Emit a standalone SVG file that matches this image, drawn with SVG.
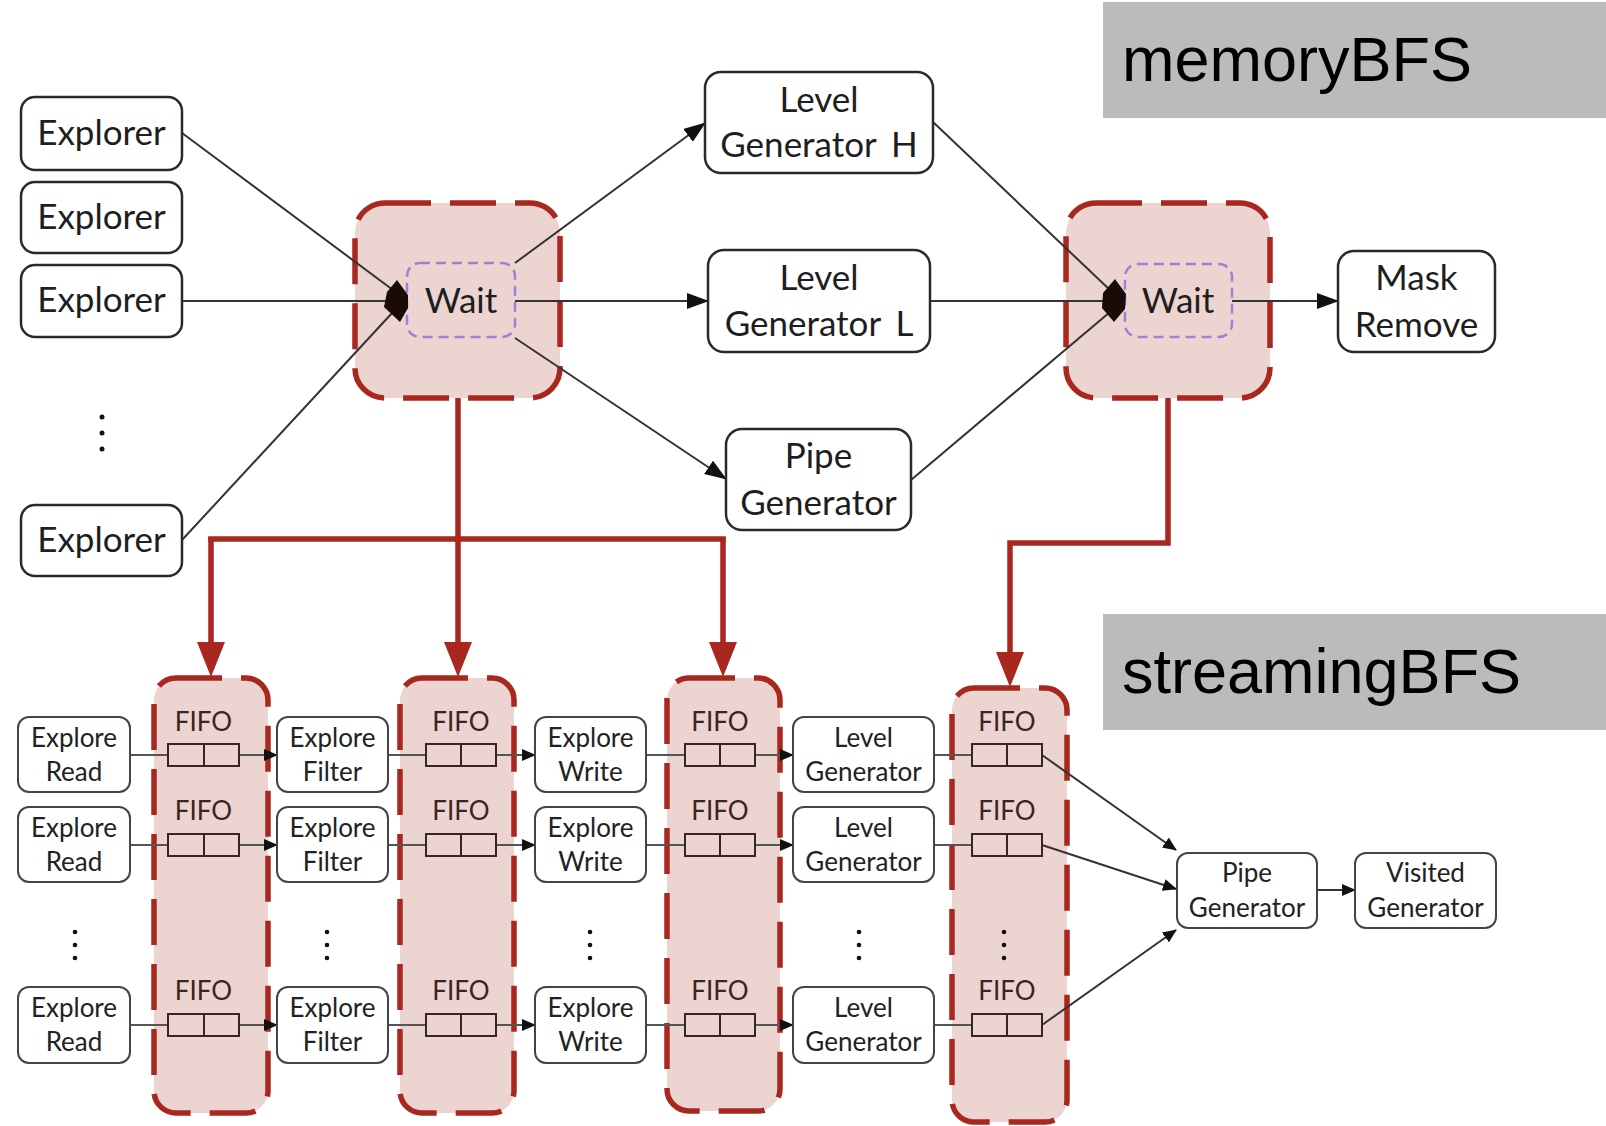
<svg xmlns="http://www.w3.org/2000/svg" width="1606" height="1126" viewBox="0 0 1606 1126">
  <style>
    .bg { fill: #ffffff; }
    .title-box { fill: #bbbbbb; }
    .title { font-family: "Liberation Sans", Arial, sans-serif; font-size: 63px; fill: #000; }
    .node { fill: #ffffff; stroke: #2a2a2a; stroke-width: 2.5; }
    .snode { fill: #ffffff; stroke: #444444; stroke-width: 2; }
    .lbl { font-family: "Lato", "Open Sans", sans-serif; font-size: 35px; fill: #1e1e1e; text-anchor: middle; }
    .slbl { font-family: "Lato", "Open Sans", sans-serif; font-size: 26px; fill: #222222; text-anchor: middle; }
    .flbl { font-family: "Lato", "Open Sans", sans-serif; font-size: 26px; fill: #3a2523; text-anchor: middle; }
    .group-box { fill: #ecd4d0; stroke: #a8271f; stroke-width: 5.5; stroke-dasharray: 46 19; }
    .wait-inner { fill: none; stroke: #9d80d8; stroke-width: 2.5; stroke-dasharray: 10 6; }
    .fifo { fill: #ecd4d0; stroke: #3a2523; stroke-width: 2; }
    .edge { fill: none; stroke: #333333; stroke-width: 2; }
    .sedge { fill: none; stroke: #555555; stroke-width: 2; }
    .red { fill: none; stroke: #a8271f; stroke-width: 5.5; }
    .junction { fill: #1a0a08; }
    .dot { fill: #111111; }
  </style>
  <defs>
    <marker id="arrow" markerUnits="userSpaceOnUse" markerWidth="22" markerHeight="16" refX="21" refY="8" orient="auto">
      <path d="M0,0 L22,8 L0,16 z" fill="#111"/>
    </marker>
    <marker id="arrow-sm" markerUnits="userSpaceOnUse" markerWidth="14" markerHeight="12" refX="13" refY="6" orient="auto">
      <path d="M0,0 L14,6 L0,12 z" fill="#111"/>
    </marker>
    <marker id="arrow-red" markerUnits="userSpaceOnUse" markerWidth="35" markerHeight="28" refX="0" refY="14" orient="auto">
      <path d="M0,0 L35,14 L0,28 z" fill="#a8271f"/>
    </marker>
  </defs>

  <rect class="bg" x="0" y="0" width="1606" height="1126"/>

  <!-- section titles -->
  <g id="title-memory">
    <rect class="title-box" x="1103" y="2" width="503" height="116"/>
    <text class="title" x="1122" y="81">memoryBFS</text>
  </g>
  <g id="title-streaming">
    <rect class="title-box" x="1103" y="614" width="503" height="116"/>
    <text class="title" x="1122" y="693">streamingBFS</text>
  </g>

  <!-- synchronisation containers -->
  <g id="wait1">
    <rect class="group-box" x="355" y="203" width="205" height="195" rx="30"/>
    <rect class="wait-inner" x="407" y="263" width="108" height="74" rx="13"/>
    <text class="lbl" x="461" y="313">Wait</text>
  </g>
  <g id="wait2">
    <rect class="group-box" x="1066" y="203" width="204" height="195" rx="30"/>
    <rect class="wait-inner" x="1125" y="264" width="107" height="73" rx="13"/>
    <text class="lbl" x="1178" y="313">Wait</text>
  </g>

  <!-- FIFO columns -->
  <g id="fifo-col1">
    <rect class="group-box" x="154" y="678" width="114" height="435" rx="22"/>
  </g>
  <g id="fifo-col2">
    <rect class="group-box" x="400" y="678" width="114" height="435" rx="22"/>
  </g>
  <g id="fifo-col3">
    <rect class="group-box" x="667" y="678" width="113" height="433" rx="22"/>
  </g>
  <g id="fifo-col4">
    <rect class="group-box" x="952" y="688" width="115" height="434" rx="22"/>
  </g>

  <!-- connectors -->
  <g id="connectors">
    <!-- explorers into first wait -->
    <line class="edge" x1="182" y1="133" x2="393" y2="290"/>
    <line class="edge" x1="182" y1="301" x2="388" y2="301"/>
    <line class="edge" x1="182" y1="540" x2="393" y2="312"/>
    <!-- first wait to generators -->
    <line class="edge" x1="515" y1="263" x2="705" y2="123" marker-end="url(#arrow)"/>
    <line class="edge" x1="515" y1="301" x2="708" y2="301" marker-end="url(#arrow)"/>
    <line class="edge" x1="515" y1="338" x2="726" y2="479" marker-end="url(#arrow)"/>
    <!-- generators into second wait -->
    <line class="edge" x1="933" y1="122" x2="1110" y2="290"/>
    <line class="edge" x1="930" y1="301" x2="1105" y2="301"/>
    <line class="edge" x1="911" y1="480" x2="1110" y2="312"/>
    <!-- second wait to mask remove -->
    <line class="edge" x1="1232" y1="301" x2="1338" y2="301" marker-end="url(#arrow)"/>

    <!-- merge points -->
    <polygon class="junction" points="397,280 408,295 408,308 400,322 384,307 387,292"/>
    <polygon class="junction" points="1115,279 1126,294 1125,309 1114,322 1102,308 1103,293"/>

    <!-- mapping from memoryBFS to streamingBFS -->
    <path class="red" d="M458,398 V539"/>
    <path class="red" d="M211,539 H723" stroke-linecap="square"/>
    <path class="red" d="M211,537 V642" marker-end="url(#arrow-red)"/>
    <path class="red" d="M458,537 V642" marker-end="url(#arrow-red)"/>
    <path class="red" d="M723,537 V642" marker-end="url(#arrow-red)"/>
    <path class="red" d="M1168,398 V543 H1010 V652" stroke-linejoin="miter" marker-end="url(#arrow-red)"/>

    <!-- streaming rows -->
    <g id="row1-edges">
      <line class="sedge" x1="130" y1="755" x2="168" y2="755"/>
      <line class="sedge" x1="239" y1="755" x2="277" y2="755" marker-end="url(#arrow-sm)"/>
      <line class="sedge" x1="388" y1="755" x2="426" y2="755"/>
      <line class="sedge" x1="496" y1="755" x2="535" y2="755" marker-end="url(#arrow-sm)"/>
      <line class="sedge" x1="646" y1="755" x2="685" y2="755"/>
      <line class="sedge" x1="755" y1="755" x2="793" y2="755" marker-end="url(#arrow-sm)"/>
      <line class="sedge" x1="934" y1="755" x2="972" y2="755"/>
      <line class="edge" x1="1042" y1="755" x2="1176" y2="850" marker-end="url(#arrow-sm)"/>
    </g>
    <g id="row2-edges">
      <line class="sedge" x1="130" y1="845" x2="168" y2="845"/>
      <line class="sedge" x1="239" y1="845" x2="277" y2="845" marker-end="url(#arrow-sm)"/>
      <line class="sedge" x1="388" y1="845" x2="426" y2="845"/>
      <line class="sedge" x1="496" y1="845" x2="535" y2="845" marker-end="url(#arrow-sm)"/>
      <line class="sedge" x1="646" y1="845" x2="685" y2="845"/>
      <line class="sedge" x1="755" y1="845" x2="793" y2="845" marker-end="url(#arrow-sm)"/>
      <line class="sedge" x1="934" y1="845" x2="972" y2="845"/>
      <line class="edge" x1="1042" y1="845" x2="1176" y2="889" marker-end="url(#arrow-sm)"/>
    </g>
    <g id="row3-edges">
      <line class="sedge" x1="130" y1="1025" x2="168" y2="1025"/>
      <line class="sedge" x1="239" y1="1025" x2="277" y2="1025" marker-end="url(#arrow-sm)"/>
      <line class="sedge" x1="388" y1="1025" x2="426" y2="1025"/>
      <line class="sedge" x1="496" y1="1025" x2="535" y2="1025" marker-end="url(#arrow-sm)"/>
      <line class="sedge" x1="646" y1="1025" x2="685" y2="1025"/>
      <line class="sedge" x1="755" y1="1025" x2="793" y2="1025" marker-end="url(#arrow-sm)"/>
      <line class="sedge" x1="934" y1="1025" x2="972" y2="1025"/>
      <line class="edge" x1="1042" y1="1025" x2="1176" y2="930" marker-end="url(#arrow-sm)"/>
    </g>
    <line class="edge" x1="1317" y1="890" x2="1355" y2="890" marker-end="url(#arrow-sm)"/>
  </g>

  <!-- memoryBFS nodes -->
  <g id="explorer1">
    <rect class="node" x="21" y="97" width="161" height="73" rx="14"/>
    <text class="lbl" x="101.5" y="145">Explorer</text>
  </g>
  <g id="explorer2">
    <rect class="node" x="21" y="182" width="161" height="71" rx="14"/>
    <text class="lbl" x="101.5" y="229">Explorer</text>
  </g>
  <g id="explorer3">
    <rect class="node" x="21" y="265" width="161" height="72" rx="14"/>
    <text class="lbl" x="101.5" y="312">Explorer</text>
  </g>
  <g id="explorer-gap">
    <circle class="dot" cx="102" cy="417" r="2.5"/>
    <circle class="dot" cx="102" cy="433" r="2.5"/>
    <circle class="dot" cx="102" cy="449" r="2.5"/>
  </g>
  <g id="explorerN">
    <rect class="node" x="21" y="505" width="161" height="71" rx="14"/>
    <text class="lbl" x="101.5" y="552">Explorer</text>
  </g>
  <g id="level-gen-h">
    <rect class="node" x="705" y="72" width="228" height="101" rx="16"/>
    <text class="lbl" x="819" y="112">Level</text>
    <text class="lbl" x="819" y="157" word-spacing="6">Generator H</text>
  </g>
  <g id="level-gen-l">
    <rect class="node" x="708" y="250" width="222" height="102" rx="16"/>
    <text class="lbl" x="819" y="290">Level</text>
    <text class="lbl" x="819" y="336" word-spacing="6">Generator L</text>
  </g>
  <g id="pipe-gen-mem">
    <rect class="node" x="726" y="429" width="185" height="101" rx="16"/>
    <text class="lbl" x="818.5" y="468">Pipe</text>
    <text class="lbl" x="818.5" y="515">Generator</text>
  </g>
  <g id="mask-remove">
    <rect class="node" x="1338" y="251" width="157" height="101" rx="16"/>
    <text class="lbl" x="1416.5" y="290">Mask</text>
    <text class="lbl" x="1416.5" y="337">Remove</text>
  </g>

  <!-- streamingBFS nodes, row 1 -->
  <g id="read1"><rect class="snode" x="18" y="717" width="112" height="75" rx="11"/>
    <text class="slbl" x="74" y="747">Explore</text><text class="slbl" x="74" y="781">Read</text></g>
  <g id="filter1"><rect class="snode" x="277" y="717" width="111" height="75" rx="11"/>
    <text class="slbl" x="332.5" y="747">Explore</text><text class="slbl" x="332.5" y="781">Filter</text></g>
  <g id="write1"><rect class="snode" x="535" y="717" width="111" height="75" rx="11"/>
    <text class="slbl" x="590.5" y="747">Explore</text><text class="slbl" x="590.5" y="781">Write</text></g>
  <g id="levelgen1"><rect class="snode" x="793" y="717" width="141" height="75" rx="11"/>
    <text class="slbl" x="863.5" y="747">Level</text><text class="slbl" x="863.5" y="781">Generator</text></g>

  <!-- row 2 -->
  <g id="read2"><rect class="snode" x="18" y="807" width="112" height="75" rx="11"/>
    <text class="slbl" x="74" y="837">Explore</text><text class="slbl" x="74" y="871">Read</text></g>
  <g id="filter2"><rect class="snode" x="277" y="807" width="111" height="75" rx="11"/>
    <text class="slbl" x="332.5" y="837">Explore</text><text class="slbl" x="332.5" y="871">Filter</text></g>
  <g id="write2"><rect class="snode" x="535" y="807" width="111" height="75" rx="11"/>
    <text class="slbl" x="590.5" y="837">Explore</text><text class="slbl" x="590.5" y="871">Write</text></g>
  <g id="levelgen2"><rect class="snode" x="793" y="807" width="141" height="75" rx="11"/>
    <text class="slbl" x="863.5" y="837">Level</text><text class="slbl" x="863.5" y="871">Generator</text></g>

  <!-- row N -->
  <g id="read3"><rect class="snode" x="18" y="987" width="112" height="76" rx="11"/>
    <text class="slbl" x="74" y="1017">Explore</text><text class="slbl" x="74" y="1051">Read</text></g>
  <g id="filter3"><rect class="snode" x="277" y="987" width="111" height="76" rx="11"/>
    <text class="slbl" x="332.5" y="1017">Explore</text><text class="slbl" x="332.5" y="1051">Filter</text></g>
  <g id="write3"><rect class="snode" x="535" y="987" width="111" height="76" rx="11"/>
    <text class="slbl" x="590.5" y="1017">Explore</text><text class="slbl" x="590.5" y="1051">Write</text></g>
  <g id="levelgen3"><rect class="snode" x="793" y="987" width="141" height="76" rx="11"/>
    <text class="slbl" x="863.5" y="1017">Level</text><text class="slbl" x="863.5" y="1051">Generator</text></g>

  <!-- vertical ellipses between row 2 and row N -->
  <g id="row-gaps">
    <circle class="dot" cx="75" cy="932" r="2.3"/><circle class="dot" cx="75" cy="945" r="2.3"/><circle class="dot" cx="75" cy="958" r="2.3"/>
    <circle class="dot" cx="327" cy="932" r="2.3"/><circle class="dot" cx="327" cy="945" r="2.3"/><circle class="dot" cx="327" cy="958" r="2.3"/>
    <circle class="dot" cx="590" cy="932" r="2.3"/><circle class="dot" cx="590" cy="945" r="2.3"/><circle class="dot" cx="590" cy="958" r="2.3"/>
    <circle class="dot" cx="859" cy="932" r="2.3"/><circle class="dot" cx="859" cy="945" r="2.3"/><circle class="dot" cx="859" cy="958" r="2.3"/>
    <circle class="dot" cx="1004" cy="932" r="2.3"/><circle class="dot" cx="1004" cy="945" r="2.3"/><circle class="dot" cx="1004" cy="958" r="2.3"/>
  </g>

  <!-- FIFO buffers -->
  <g id="fifo-c1r1"><text class="flbl" x="203.5" y="731">FIFO</text><rect class="fifo" x="168" y="744" width="71" height="22"/><line class="fifo" x1="204" y1="744" x2="204" y2="766"/></g>
  <g id="fifo-c1r2"><text class="flbl" x="203.5" y="820">FIFO</text><rect class="fifo" x="168" y="834" width="71" height="22"/><line class="fifo" x1="204" y1="834" x2="204" y2="856"/></g>
  <g id="fifo-c1r3"><text class="flbl" x="203.5" y="1000">FIFO</text><rect class="fifo" x="168" y="1014" width="71" height="22"/><line class="fifo" x1="204" y1="1014" x2="204" y2="1036"/></g>

  <g id="fifo-c2r1"><text class="flbl" x="461" y="731">FIFO</text><rect class="fifo" x="426" y="744" width="70" height="22"/><line class="fifo" x1="461" y1="744" x2="461" y2="766"/></g>
  <g id="fifo-c2r2"><text class="flbl" x="461" y="820">FIFO</text><rect class="fifo" x="426" y="834" width="70" height="22"/><line class="fifo" x1="461" y1="834" x2="461" y2="856"/></g>
  <g id="fifo-c2r3"><text class="flbl" x="461" y="1000">FIFO</text><rect class="fifo" x="426" y="1014" width="70" height="22"/><line class="fifo" x1="461" y1="1014" x2="461" y2="1036"/></g>

  <g id="fifo-c3r1"><text class="flbl" x="720" y="731">FIFO</text><rect class="fifo" x="685" y="744" width="70" height="22"/><line class="fifo" x1="720" y1="744" x2="720" y2="766"/></g>
  <g id="fifo-c3r2"><text class="flbl" x="720" y="820">FIFO</text><rect class="fifo" x="685" y="834" width="70" height="22"/><line class="fifo" x1="720" y1="834" x2="720" y2="856"/></g>
  <g id="fifo-c3r3"><text class="flbl" x="720" y="1000">FIFO</text><rect class="fifo" x="685" y="1014" width="70" height="22"/><line class="fifo" x1="720" y1="1014" x2="720" y2="1036"/></g>

  <g id="fifo-c4r1"><text class="flbl" x="1007" y="731">FIFO</text><rect class="fifo" x="972" y="744" width="70" height="22"/><line class="fifo" x1="1007" y1="744" x2="1007" y2="766"/></g>
  <g id="fifo-c4r2"><text class="flbl" x="1007" y="820">FIFO</text><rect class="fifo" x="972" y="834" width="70" height="22"/><line class="fifo" x1="1007" y1="834" x2="1007" y2="856"/></g>
  <g id="fifo-c4r3"><text class="flbl" x="1007" y="1000">FIFO</text><rect class="fifo" x="972" y="1014" width="70" height="22"/><line class="fifo" x1="1007" y1="1014" x2="1007" y2="1036"/></g>

  <!-- shared tail of the stream -->
  <g id="pipe-gen-stream"><rect class="snode" x="1177" y="853" width="140" height="75" rx="11"/>
    <text class="slbl" x="1247" y="882">Pipe</text><text class="slbl" x="1247" y="917">Generator</text></g>
  <g id="visited-gen"><rect class="snode" x="1355" y="853" width="141" height="75" rx="11"/>
    <text class="slbl" x="1425.5" y="882">Visited</text><text class="slbl" x="1425.5" y="917">Generator</text></g>
</svg>
